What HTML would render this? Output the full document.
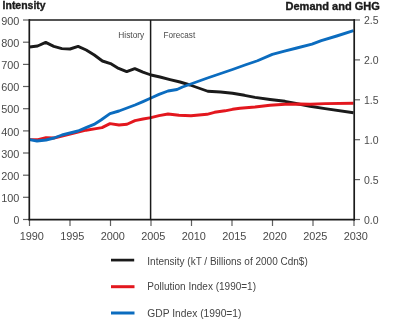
<!DOCTYPE html>
<html><head><meta charset="utf-8">
<style>
html,body{margin:0;padding:0;background:#fff;}
body{width:400px;height:326px;overflow:hidden;position:relative;}
svg{position:absolute;left:0;top:0;will-change:transform;}
text{font-family:"Liberation Sans",sans-serif;}
</style></head><body>
<svg width="400" height="326" viewBox="0 0 400 326">
<g font-size="10.5" fill="#333">
<text x="2.6" y="9.3" font-weight="bold" fill="#1a1a1a" stroke="#1a1a1a" stroke-width="0.35" textLength="43" lengthAdjust="spacingAndGlyphs">Intensity</text>
<text x="285.5" y="9.5" font-weight="bold" fill="#1a1a1a" stroke="#1a1a1a" stroke-width="0.35" textLength="94.3" lengthAdjust="spacingAndGlyphs">Demand and GHG</text>
</g>
<!-- left ticks -->
<g stroke="#606060" stroke-width="1.2">
<line x1="23" y1="20" x2="29" y2="20"/>
<line x1="23" y1="42.2" x2="29" y2="42.2"/>
<line x1="23" y1="64.4" x2="29" y2="64.4"/>
<line x1="23" y1="86.5" x2="29" y2="86.5"/>
<line x1="23" y1="108.7" x2="29" y2="108.7"/>
<line x1="23" y1="130.9" x2="29" y2="130.9"/>
<line x1="23" y1="153.0" x2="29" y2="153.0"/>
<line x1="23" y1="175.2" x2="29" y2="175.2"/>
<line x1="23" y1="197.3" x2="29" y2="197.3"/>
<line x1="23" y1="219.5" x2="29" y2="219.5"/>
<line x1="355" y1="20" x2="360" y2="20"/>
<line x1="355" y1="59.9" x2="360" y2="59.9"/>
<line x1="355" y1="99.8" x2="360" y2="99.8"/>
<line x1="355" y1="139.7" x2="360" y2="139.7"/>
<line x1="355" y1="179.6" x2="360" y2="179.6"/>
<line x1="355" y1="219.5" x2="360" y2="219.5"/>
<line x1="29.5" y1="220" x2="29.5" y2="226"/>
<line x1="70" y1="220" x2="70" y2="226"/>
<line x1="110.5" y1="220" x2="110.5" y2="226"/>
<line x1="151" y1="220" x2="151" y2="226"/>
<line x1="191.5" y1="220" x2="191.5" y2="226"/>
<line x1="232" y1="220" x2="232" y2="226"/>
<line x1="272.5" y1="220" x2="272.5" y2="226"/>
<line x1="313" y1="220" x2="313" y2="226"/>
<line x1="354" y1="220" x2="354" y2="226"/>
</g>
<g font-size="10.5" fill="#4a4a4a" text-anchor="end">
<text x="19.4" y="24.6" textLength="18.2" lengthAdjust="spacingAndGlyphs">900</text>
<text x="19.4" y="46.8" textLength="18.2" lengthAdjust="spacingAndGlyphs">800</text>
<text x="19.4" y="69.0" textLength="18.2" lengthAdjust="spacingAndGlyphs">700</text>
<text x="19.4" y="91.1" textLength="18.2" lengthAdjust="spacingAndGlyphs">600</text>
<text x="19.4" y="113.3" textLength="18.2" lengthAdjust="spacingAndGlyphs">500</text>
<text x="19.4" y="135.5" textLength="18.2" lengthAdjust="spacingAndGlyphs">400</text>
<text x="19.4" y="157.6" textLength="18.2" lengthAdjust="spacingAndGlyphs">300</text>
<text x="19.4" y="179.8" textLength="18.2" lengthAdjust="spacingAndGlyphs">200</text>
<text x="19.4" y="201.9" textLength="18.2" lengthAdjust="spacingAndGlyphs">100</text>
<text x="19.4" y="224.1">0</text>
</g>
<g font-size="10.5" fill="#4a4a4a">
<text x="364" y="24">2.5</text>
<text x="364" y="63.9">2.0</text>
<text x="364" y="103.8">1.5</text>
<text x="364" y="143.7">1.0</text>
<text x="364" y="183.6">0.5</text>
<text x="364" y="223.5">0.0</text>
</g>
<g font-size="10.5" fill="#4a4a4a" text-anchor="middle">
<text x="31.8" y="239.6" textLength="24.3" lengthAdjust="spacingAndGlyphs">1990</text>
<text x="72.3" y="239.6" textLength="24.3" lengthAdjust="spacingAndGlyphs">1995</text>
<text x="112.8" y="239.6" textLength="24.3" lengthAdjust="spacingAndGlyphs">2000</text>
<text x="153.3" y="239.6" textLength="24.3" lengthAdjust="spacingAndGlyphs">2005</text>
<text x="193.8" y="239.6" textLength="24.3" lengthAdjust="spacingAndGlyphs">2010</text>
<text x="234.3" y="239.6" textLength="24.3" lengthAdjust="spacingAndGlyphs">2015</text>
<text x="274.8" y="239.6" textLength="24.3" lengthAdjust="spacingAndGlyphs">2020</text>
<text x="315.3" y="239.6" textLength="24.3" lengthAdjust="spacingAndGlyphs">2025</text>
<text x="355.8" y="239.6" textLength="24.3" lengthAdjust="spacingAndGlyphs">2030</text>
</g>
<g font-size="9" fill="#4a4a4a">
<text x="118.3" y="38.2" textLength="26" lengthAdjust="spacingAndGlyphs">History</text>
<text x="163.4" y="38.2" textLength="31.8" lengthAdjust="spacingAndGlyphs">Forecast</text>
</g>
<g fill="none" stroke-width="2.9" stroke-linejoin="round">


<polyline stroke="#1a1a1a" points="29.5,47 37.6,46 45.7,42.4 53.8,46.4 61.9,48.6 70,49 78.1,46.4 86.2,50 94.3,55 102.4,61 110.5,63.6 118.6,68.4 126.7,71.6 134.8,68.6 142.9,72.2 151,75 160,77 170,79.6 180,82 190,85 195,86.75 207.75,91.25 220.5,92 232.5,93.2 244.5,95.3 255,97.4 270,99.5 285,101.3 296,103.5 310,106.3 325,108.6 353.5,112.8"/>
<polyline stroke="#e3171e" points="29.5,139.6 38,139.6 46,137.6 54,138 62,136.2 70,134.2 78,132.2 86,130.2 96,128.6 102,127.6 110,123.6 119,125 127,124.2 135,120.6 143,119 151,117.6 159,115.6 168,114 179,115.3 191,115.8 207,114.3 214.5,112.3 225,110.8 232.5,109.3 240,108.2 255,107 270,105.2 285,104.3 300,104 310,104.2 325,103.6 353.5,103.2"/>
<polyline stroke="#0b6cbf" points="29.5,139.6 37,141 46,140 54,138 62,135 70,133 78,131 86,127.6 94,124.4 101,120 110,113.6 119,111 127,108 135,105 143,101.6 151,98 159,94.4 168,91 177,89.5 182.5,87 195,82.5 207.5,78 220,73.75 232.5,69.5 245,65 257.5,60.75 272.3,54.4 284.5,51.2 296.8,48 312,44.1 321.3,40.6 336.7,36 353.5,30.7"/>
</g>
<!-- frame -->
<g stroke="#1a1a1a" fill="none">
<line x1="29.3" y1="19.2" x2="29.3" y2="220.3" stroke-width="1.7"/>
<line x1="28.5" y1="219.6" x2="355" y2="219.6" stroke-width="1.7"/>
<line x1="29" y1="20" x2="355" y2="20" stroke-width="1.7"/>
<line x1="354.2" y1="19.2" x2="354.2" y2="220.5" stroke-width="1.7"/>
<line x1="150.6" y1="20" x2="150.6" y2="219.5" stroke-width="1.5"/>
</g>
<!-- legend -->
<g stroke-width="3">
<line x1="111" y1="260.1" x2="134.2" y2="260.1" stroke="#1a1a1a" stroke-width="2.7"/>
<line x1="111" y1="286.7" x2="134.5" y2="286.7" stroke="#e3171e"/>
<line x1="111" y1="313" x2="134.5" y2="313" stroke="#0b6cbf"/>
</g>
<g font-size="10" fill="#444">
<text x="147.3" y="264.6">Intensity (kT / Billions of 2000 Cdn$)</text>
<text x="147.3" y="290.2">Pollution Index (1990=1)</text>
<text x="147.3" y="317.3" textLength="94.2" lengthAdjust="spacingAndGlyphs">GDP Index (1990=1)</text>
</g>
</svg>
</body></html>
